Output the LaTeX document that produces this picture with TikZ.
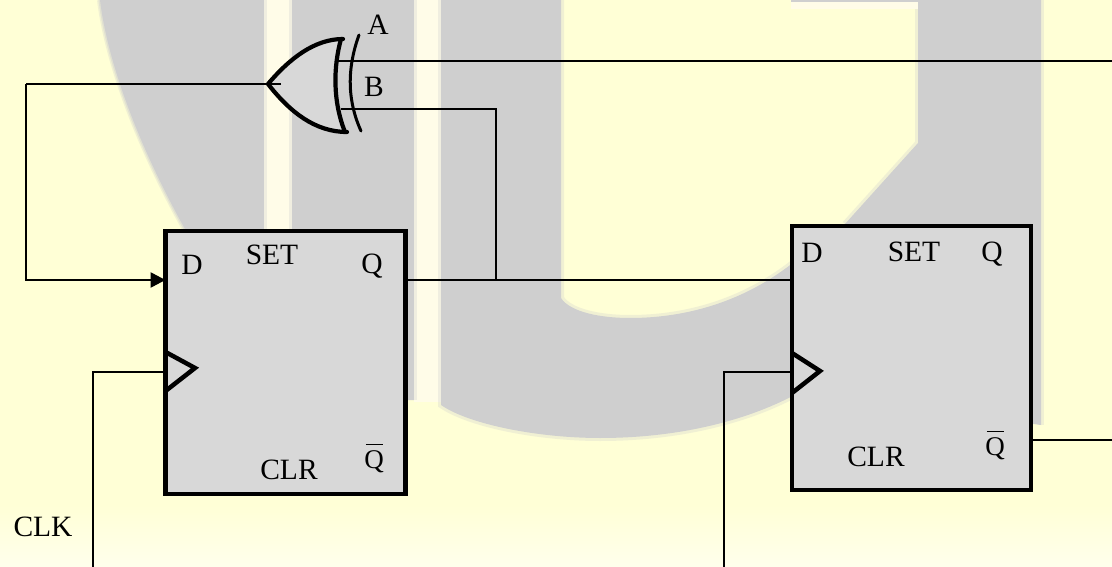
\documentclass[tikz,border=0pt]{standalone}
\usepackage{fontspec}
\setmainfont{Liberation Serif}
\usetikzlibrary{arrows.meta,calc}
\definecolor{pagebg}{HTML}{FFFFD6}
\definecolor{pagelow}{HTML}{FFFFEC}
\definecolor{band}{HTML}{CFCFCF}
\definecolor{cream}{HTML}{FFFCE8}
\definecolor{boxfill}{HTML}{D8D8D8}
\newcommand{\qbarsym}{\leavevmode\rlap{\hspace{0.06em}\raisebox{0.85em}{\rule{0.62em}{1.5pt}}}Q}
\tikzset{
  ffbox/.style={draw=black,fill=boxfill,line width=4.5pt,rectangle,inner sep=0pt,outer sep=0pt,line join=miter},
  lab/.style={inner sep=0pt,outer sep=0pt,font=\fontsize{29.5}{30}\selectfont,text=black},
  labq/.style={inner sep=0pt,outer sep=0pt,font=\fontsize{27}{28}\selectfont,text=black},
  wire/.style={draw=black,line width=2pt,line join=miter},
  thickwire/.style={draw=black,line width=2.6pt,line join=miter},
  clocktri/.style={draw=black,line width=4.5pt,line join=miter},
  gateline/.style={draw=black,line width=4.2pt,line cap=round,line join=round},
  softedge/.style={draw=#1,opacity=.3,line width=6pt},
  softedgein/.style={draw=#1,opacity=.45,line width=3pt},
}
\begin{document}
\begin{tikzpicture}[x=1pt,y=-1pt]
\useasboundingbox (0,0) rectangle (1112,567);
% page background
\fill[pagebg] (0,0) rectangle (1112,567);
\shade[top color=pagebg,bottom color=pagelow] (0,505) rectangle (1112,567);
% backdrop logo: left sweep and first bar
\path[fill=band] (100,0) .. controls (106,50) and (130,130) .. (185,229)
  -- (300,400) -- (414,400) -- (414,0) -- cycle;
\path[softedge=band] (100,0) .. controls (106,50) and (130,130) .. (185,229);
\path[softedgein=band] (100,0) .. controls (106,50) and (130,130) .. (185,229);
\fill[cream] (264,0) rectangle (292,231);
\path[softedge=band] (264,0) -- (264,231);
\path[softedge=band] (292,0) -- (292,231);
\fill[cream] (414,0) rectangle (441,402);
\path[softedge=band] (414,0) -- (414,400);
% backdrop logo: the U
\path[fill=band] (441,0) -- (441,405)
  .. controls (470,425) and (540,438) .. (600,438)
  .. controls (680,438) and (750,420) .. (800,392)
  -- (1041,425) -- (1041,0) -- (791,0) -- (791,2) -- (918,2)
  -- (918,143) -- (845,224) -- (794,262)
  .. controls (740,305) and (680,318) .. (630,318)
  .. controls (600,318) and (570,312) .. (561,298)
  -- (561,0) -- cycle;
\path[softedge=band] (441,0) -- (441,405)
  .. controls (470,425) and (540,438) .. (600,438)
  .. controls (680,438) and (750,420) .. (800,392);
\path[softedge=band] (561,0) -- (561,298)
  .. controls (570,312) and (600,318) .. (630,318)
  .. controls (680,318) and (740,305) .. (794,262);
\path[softedge=band] (845,224) -- (918,143) -- (918,2);
\path[softedge=band] (1041,0) -- (1041,425);
\fill[cream] (791,2) rectangle (918,9);
% named points
\coordinate (xorout) at (281,84);
\coordinate (fbtop) at (26,84);
\coordinate (fbbot) at (26,280);
\coordinate (ina) at (338,61);
\coordinate (aright) at (1112,61);
\coordinate (inb) at (341,109);
\coordinate (bcorner) at (496,109);
\coordinate (bjoin) at (496,280);
\coordinate (clkbot1) at (93,567);
\coordinate (clkcorner1) at (93,372);
\coordinate (clkbot2) at (724,567);
\coordinate (clkcorner2) at (724,372);
\coordinate (qbright) at (1112,440);
% flip-flops
\node[ffbox,minimum width=240pt,minimum height=263pt] (ffa) at (285.5,362.5) {};
\node[ffbox,minimum width=239pt,minimum height=264pt] (ffb) at (911.5,358) {};
% clock triangles
\draw[clocktri] (ffa.west |- 0,352) -- (195,368) -- (ffa.west |- 0,391);
\draw[clocktri] (ffb.west |- 0,353) -- (820,371) -- (ffb.west |- 0,393);
% XOR gate
\fill[boxfill] (268,84) .. controls (290,58) and (315,39) .. (343,39)
  .. controls (333,68) and (333,102) .. (347,132)
  .. controls (315,132) and (290,112) .. (268,84) -- cycle;
\draw[gateline] (343,39) .. controls (315,39) and (290,58) .. (268,84)
  .. controls (290,112) and (315,132) .. (347,132);
\draw[gateline] (341,39) .. controls (333,68) and (333,102) .. (345,132);
\draw[draw=black,line width=3pt,line cap=round] (359,35) .. controls (347,68) and (347,100) .. (361,131);
% wires
\draw[wire] (ina) -- (aright);
\draw[wire] (inb) -- (bcorner) -- (bjoin);
\draw[wire] (xorout) -- (fbtop);
\draw[thickwire,-{Triangle[length=15pt,width=15pt]}] (fbtop) -- (fbbot) -- (ffa.west |- fbbot);
\draw[wire] (ffa.east |- fbbot) -- (ffb.west |- fbbot);
\draw[wire] (clkbot1) -- (clkcorner1) -- (ffa.west |- clkcorner1);
\draw[wire] (clkbot2) -- (clkcorner2) -- (ffb.west |- clkcorner2);
\draw[wire] (ffb.east |- qbright) -- (qbright);
% labels
\node[lab] (lA) at (378,25) {A};
\node[lab] (lB) at (374,87) {B};
\node[lab] (la1) at (192,265) {D};
\node[lab] (la2) at (272,255) {SET};
\node[lab] (la3) at (372,266) {Q};
\node[labq] (la4) at (374,458) {\qbarsym};
\node[lab] (la5) at (289,470) {CLR};
\node[lab] (lb1) at (812,253) {D};
\node[lab] (lb2) at (914,252) {SET};
\node[lab] (lb3) at (992,254) {Q};
\node[labq] (lb4) at (995,445) {\qbarsym};
\node[lab] (lb5) at (876,457) {CLR};
\node[lab] (lclk) at (43,527) {CLK};
\end{tikzpicture}
\end{document}
